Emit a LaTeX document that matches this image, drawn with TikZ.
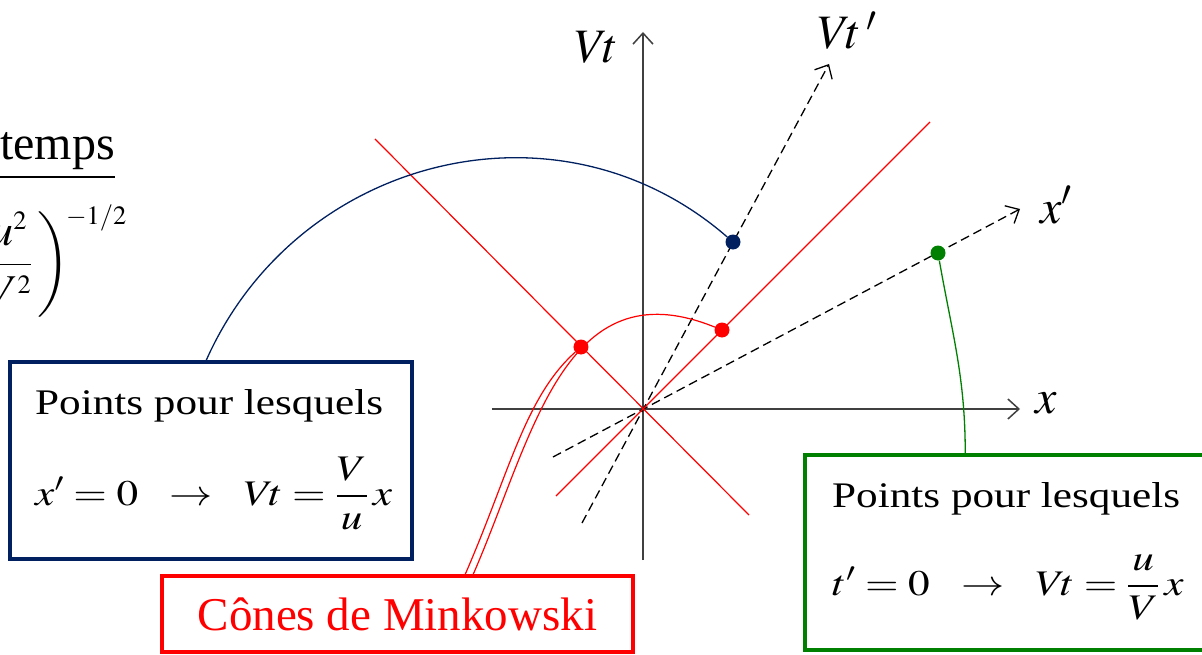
\documentclass[tikz,border=0pt]{standalone}
\usepackage{amsmath}
\usepackage{mathptmx}
\usepackage{graphicx}
\usepackage{fontspec}
\setmainfont{Liberation Serif}
\usetikzlibrary{arrows.meta}

\definecolor{navy}{RGB}{0,32,96}
\definecolor{ggreen}{RGB}{0,128,0}

\newcommand{\bigsz}{\fontsize{48}{56}\selectfont}
\newcommand{\boxsz}{\fontsize{36}{42}\selectfont}
\newcommand{\wide}[1]{\scalebox{1.2}[1]{#1}}

\begin{document}
\begin{tikzpicture}[x=1pt, y=1pt,
    >={Straight Barb[length=11pt,width=20pt]},
    axis/.style={black!75, line width=1.5pt},
    moving/.style={black, line width=1.3pt, dash pattern=on 9pt off 5pt},
    cone/.style={red, line width=1.2pt},
    dot/.style={circle, inner sep=0pt, minimum size=15pt},
    frame/.style={line width=3.5pt, inner sep=0pt},
    lbl/.style={font=\bigsz, inner sep=0pt, anchor=base west},
    txt/.style={font=\boxsz, inner sep=0pt, anchor=base west}]

    \useasboundingbox (-643,-245) rectangle (559,409);

    % Title (cut by the page)
    \node[lbl, anchor=base east] (ttl) at (-528,249) {\underline{temps}};
    \node[font=\fontsize{44}{52}\selectfont, inner sep=0pt, anchor=east] (gam) at (-516,148)
        {$\dfrac{u^{\scriptscriptstyle 2}}{V^{\scriptscriptstyle 2}}\,\bigg)^{\!\scriptscriptstyle -1/2}$};

    % Axes of the rest frame
    \draw[axis, ->] (0,-151) -- (0,377);
    \draw[axis, ->] (-151,0) -- (377,0);
    \node[lbl] (vtlab) at (-68,346) {$V\!t$};
    \node[lbl] (xlab) at (392,-4) {$x$};

    % Axes of the moving frame
    \draw[moving, ->] (-61,-114) -- (186,345);
    \draw[moving, ->] (-90,-48) -- (377,200);
    \node[lbl] (vtplab) at (175,360) {$V\!t\,'$};
    \node[lbl] (xplab) at (397,186) {$x'$};

    % Light cone
    \draw[cone] (-87,-87) -- (287,287);
    \draw[cone] (-268,270) -- (106,-106);

    % Points
    \node[dot, fill=red] (rdot1) at (-62,62) {};
    \node[dot, fill=red] (rdot2) at (79,79) {};
    \node[dot, fill=navy] (bdot) at (90,167) {};
    \node[dot, fill=ggreen] (gdot) at (295,156) {};

    % Boxes
    \node[frame, draw=navy, minimum width=402pt, minimum height=197pt] (bbox) at (-432,-51.5) {};
    \node[txt] (btxt) at (-608,-5) {\wide{Points\ pour\ lesquels}};
    \node[txt] (bmath) at (-608,-96) {\wide{$x'=0\enskip\rightarrow\enskip V\!t=\dfrac{V}{u}\,x$}};

    \node[frame, draw=ggreen, minimum width=413pt, minimum height=195pt] (gbox) at (368.5,-143.5) {};
    \node[txt] (gtxt) at (189,-98) {\wide{Points pour lesquels}};
    \node[txt] (gmath) at (189,-186) {\wide{$t'=0\enskip\rightarrow\enskip V\!t=\dfrac{u}{V}\,x$}};

    \node[frame, draw=red, text=red, font=\fontsize{47}{56}\selectfont,
          minimum width=471pt, minimum height=76pt] (rbox) at (-245.5,-205) {Cônes de Minkowski};

    % Links
    \draw[navy, line width=1.3pt] (bdot) to[out=139, in=66, looseness=1.07] ([xshift=198pt]bbox.north west);
    \draw[ggreen, line width=1.3pt] (gdot) to[out=-80, in=90] ([xshift=162pt]gbox.north west);
    \draw[red, line width=1.2pt] (rdot2) .. controls +(-158,64) and +(60,138) .. ([xshift=313pt]rbox.north west);
    \draw[red, line width=1.2pt] (rdot1) .. controls +(-56,-50) and +(44,101) .. ([xshift=305pt]rbox.north west);

\end{tikzpicture}
\end{document}
